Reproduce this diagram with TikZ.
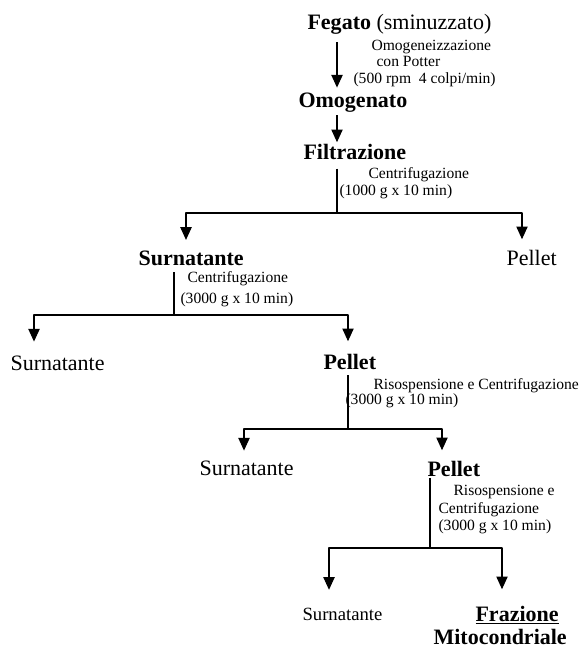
\documentclass[tikz,border=0pt]{standalone}
\usepackage{fontspec}
\setmainfont{Liberation Serif}
\usetikzlibrary{arrows.meta}
\tikzset{
	lbl/.style={inner sep=0pt, anchor=base west, font=\fontsize{16.5}{19}\selectfont},
	bold lbl/.style={lbl, font=\fontsize{16.5}{19}\selectfont\bfseries},
	small lbl/.style={lbl, font=\fontsize{14}{17}\selectfont},
	note/.style={inner sep=0pt, anchor=base west, font=\fontsize{11.7}{14}\selectfont},
	arr/.style={-{Triangle[width=8.5pt,length=9.5pt]}}
}
\begin{document}
\begin{tikzpicture}[x=0.75pt, y=-0.75pt, line join=round, line width=0.8pt]
	\useasboundingbox (0,0) rectangle (581,648);
	% samples
	\node[lbl] (fegato) at (307,30) {\textbf{Fegato} (sminuzzato)};
	\node[bold lbl] (omog) at (298,108) {Omogenato};
	\node[bold lbl] (filt) at (303,160) {Filtrazione};
	\node[bold lbl] (surn1) at (138,265) {Surnatante};
	\node[lbl] (pel1) at (506,265) {Pellet};
	\node[lbl] (surn2) at (10,370) {Surnatante};
	\node[bold lbl] (pel2) at (323,369) {Pellet};
	\node[lbl] (surn3) at (199,475) {Surnatante};
	\node[bold lbl] (pel3) at (427,476) {Pellet};
	\node[small lbl] (surn4) at (302,620) {Surnatante};
	\node[bold lbl] (fraz) at (475,621) {\underline{Frazione}};
	\node[bold lbl] (mito) at (433,644) {Mitocondriale};
	% steps
	\node[note] (n1) at (371,51) {Omogeneizzazione};
	\node[note] (n2) at (376,67) {con Potter};
	\node[note] (n3) at (353,84) {(500 rpm\ \ 4 colpi/min)};
	\node[note] (n4) at (368,179) {Centrifugazione};
	\node[note] (n5) at (339,196) {(1000 g x 10 min)};
	\node[note] (n6) at (187,282) {Centrifugazione};
	\node[note] (n7) at (180,303) {(3000 g x 10 min)};
	\node[note] (n8) at (373,389) {Risospensione e Centrifugazione};
	\node[note] (n9) at (345,404) {(3000 g x 10 min)};
	\node[note] (n10) at (453,495) {Risospensione e};
	\node[note] (n11) at (438,513) {Centrifugazione};
	\node[note] (n12) at (438,530) {(3000 g x 10 min)};
	% branch points
	\coordinate (j1) at (337,213); \coordinate (l1) at (186,213); \coordinate (r1) at (522,213);
	\coordinate (j2) at (174,315); \coordinate (l2) at (34,315);  \coordinate (r2) at (348,315);
	\coordinate (j3) at (348,429); \coordinate (l3) at (244,429); \coordinate (r3) at (442,429);
	\coordinate (j4) at (430,548); \coordinate (l4) at (329,548); \coordinate (r4) at (502,548);
	% connectors
	\draw[arr, shorten <=5pt, shorten >=4pt] (fegato.south -| j1) -- (omog.north -| j1);
	\draw[arr, shorten <=1.5pt, shorten >=1.5pt] (omog.south -| j1) -- (filt.north -| j1);
	\draw[shorten <=6pt] (filt.south -| j1) -- (j1);
	\draw[arr, shorten >=7.5pt] (j1) -| (l1 |- surn1.north);
	\draw[arr, shorten >=7.5pt] (j1) -| (r1 |- pel1.north);
	\draw[shorten <=5pt] (surn1.south -| j2) -- (j2);
	\draw[arr, shorten >=10pt] (j2) -| (l2 |- surn2.north);
	\draw[arr, shorten >=9pt] (j2) -| (r2 |- pel2.north);
	\draw[shorten <=4pt] (pel2.south -| j3) -- (j3);
	\draw[arr, shorten >=7pt] (j3) -| (l3 |- surn3.north);
	\draw[arr, shorten >=7.5pt] (j3) -| (r3 |- pel3.north);
	\draw[shorten <=0.75pt] (pel3.south -| j4) -- (j4);
	\draw[arr, shorten >=13pt] (j4) -| (l4 |- surn4.north);
	\draw[arr, shorten >=12pt] (j4) -| (r4 |- fraz.north);
\end{tikzpicture}
\end{document}
